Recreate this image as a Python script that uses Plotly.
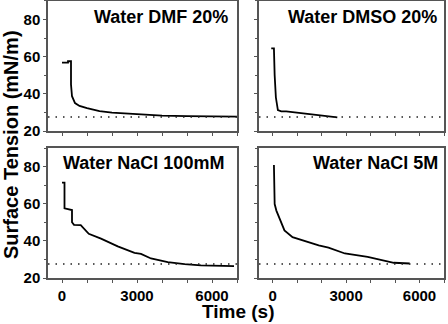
import plotly.graph_objects as go

# ---- data ----
dmf_t = [0, 240, 240, 360, 360, 400, 520, 700, 1000, 1500, 2000, 3000, 4000, 5000, 6000, 7000]
dmf_y = [56.8, 56.8, 57.5, 57.5, 45, 38.7, 35, 33.5, 32.3, 30.7, 29.9, 29.0, 28.3, 28.0, 27.8, 27.7]

dmso_t = [-60, 50, 50, 80, 130, 212, 350, 550, 900, 1200, 1500, 1880, 2300, 2640]
dmso_y = [64.4, 64.4, 64.4, 50, 38, 31.2, 30.6, 30.5, 29.9, 29.5, 29.0, 28.5, 27.8, 27.3]

nacl100_t = [0, 100, 100, 250, 400, 400, 480, 750, 1070, 1560, 2230, 2900, 3160, 3560, 4230, 4900, 5560, 6880]
nacl100_y = [71.4, 71.4, 57.5, 57.0, 56.6, 50, 48.6, 48.5, 43.8, 41.2, 37.0, 33.5, 33.0, 30.5, 28.5, 27.5, 26.8, 26.4]

nacl5_t = [50, 60, 80, 150, 280, 480, 810, 1210, 1880, 2280, 2950, 3880, 4550, 4950, 5600]
nacl5_y = [80.8, 68, 59.8, 56.3, 51.8, 45.6, 42.0, 40.3, 37.6, 36.4, 33.2, 31.4, 29.2, 28.2, 27.8]

ref_level = 27.5
labels = ["Water DMF 20%", "Water DMSO 20%", "Water NaCl 100mM", "Water NaCl 5M"]

W, H = 448, 324
FONT = "Liberation Sans, Arial, sans-serif"

fig = go.Figure()
series = [(dmf_t, dmf_y, "x", "y"), (dmso_t, dmso_y, "x2", "y2"),
          (nacl100_t, nacl100_y, "x3", "y3"), (nacl5_t, nacl5_y, "x4", "y4")]
for t, v, xa, ya in series:
    fig.add_trace(go.Scatter(x=t, y=v, mode="lines", xaxis=xa, yaxis=ya,
                             line=dict(color="black", width=1.8), showlegend=False))

def px_x(p):
    return p / W

def px_y(p):
    return 1 - p / H

xdom_l = [px_x(48), px_x(237)]
xdom_r = [px_x(259), px_x(444)]
ydom_t = [px_y(131), px_y(0.8)]
ydom_b = [px_y(278), px_y(148)]

axis_common = dict(showline=True, mirror=True, linecolor="#555", linewidth=1.5, automargin=False,
                   ticks="outside", ticklen=3, tickcolor="#555", showgrid=False, zeroline=False,
                   tickfont=dict(family=FONT, size=15, color="black", weight="bold"))

def xax(dom, anchor, labels_on):
    d = dict(axis_common)
    d.update(domain=dom, anchor=anchor, range=[-560, 7000], tickmode="linear", tick0=0, dtick=3000,
             showticklabels=labels_on,
             minor=dict(dtick=1000, tick0=0, ticks="outside", ticklen=3, tickcolor="#555"))
    return d

def yax(dom, anchor, labels_on):
    d = dict(axis_common)
    d.update(domain=dom, anchor=anchor, range=[20, 90], tickmode="linear", tick0=20, dtick=20,
             showticklabels=labels_on,
             minor=dict(dtick=10, tick0=20, ticks="outside", ticklen=2, tickcolor="#555"))
    return d

fig.update_layout(
    width=W, height=H, margin=dict(l=0, r=0, t=0, b=0, pad=0),
    plot_bgcolor="white", paper_bgcolor="white",
    xaxis=xax(xdom_l, "y", False), yaxis=yax(ydom_t, "x", True),
    xaxis2=xax(xdom_r, "y2", False), yaxis2=yax(ydom_t, "x2", False),
    xaxis3=xax(xdom_l, "y3", True), yaxis3=yax(ydom_b, "x3", True),
    xaxis4=xax(xdom_r, "y4", True), yaxis4=yax(ydom_b, "x4", False),
)

for xa, ya in [("x", "y"), ("x2", "y2"), ("x3", "y3"), ("x4", "y4")]:
    fig.add_shape(type="line", xref=xa + " domain", yref=ya, x0=0, x1=1, y0=ref_level, y1=ref_level,
                  line=dict(color="#222", width=1.5, dash="1.5px,6px"))

ann_font = dict(family=FONT, size=18, color="black", weight="bold")
fig.add_annotation(text=labels[0], x=px_x(230), y=px_y(16.5), xref="paper", yref="paper",
                   xanchor="right", yanchor="middle", showarrow=False, font=ann_font)
fig.add_annotation(text=labels[1], x=px_x(439), y=px_y(16.5), xref="paper", yref="paper",
                   xanchor="right", yanchor="middle", showarrow=False, font=ann_font)
fig.add_annotation(text=labels[2], x=px_x(61), y=px_y(163), xref="paper", yref="paper",
                   xanchor="left", yanchor="middle", showarrow=False, font=ann_font)
fig.add_annotation(text=labels[3], x=px_x(440), y=px_y(163), xref="paper", yref="paper",
                   xanchor="right", yanchor="middle", showarrow=False, font=ann_font)

title_font = dict(family=FONT, size=19, color="black", weight="bold")
fig.add_annotation(text="Time (s)", x=px_x(238), y=0, xref="paper", yref="paper",
                   xanchor="center", yanchor="bottom", showarrow=False, font=title_font)
fig.add_annotation(text="Surface Tension (mN/m)", x=px_x(11), y=px_y(145), xref="paper", yref="paper",
                   xanchor="center", yanchor="middle", showarrow=False, textangle=-90,
                   font=dict(family=FONT, size=20, color="black", weight="bold"))

fig.write_html("out.html", config={"displayModeBar": False},
               post_script="document.body.style.margin='0';")
